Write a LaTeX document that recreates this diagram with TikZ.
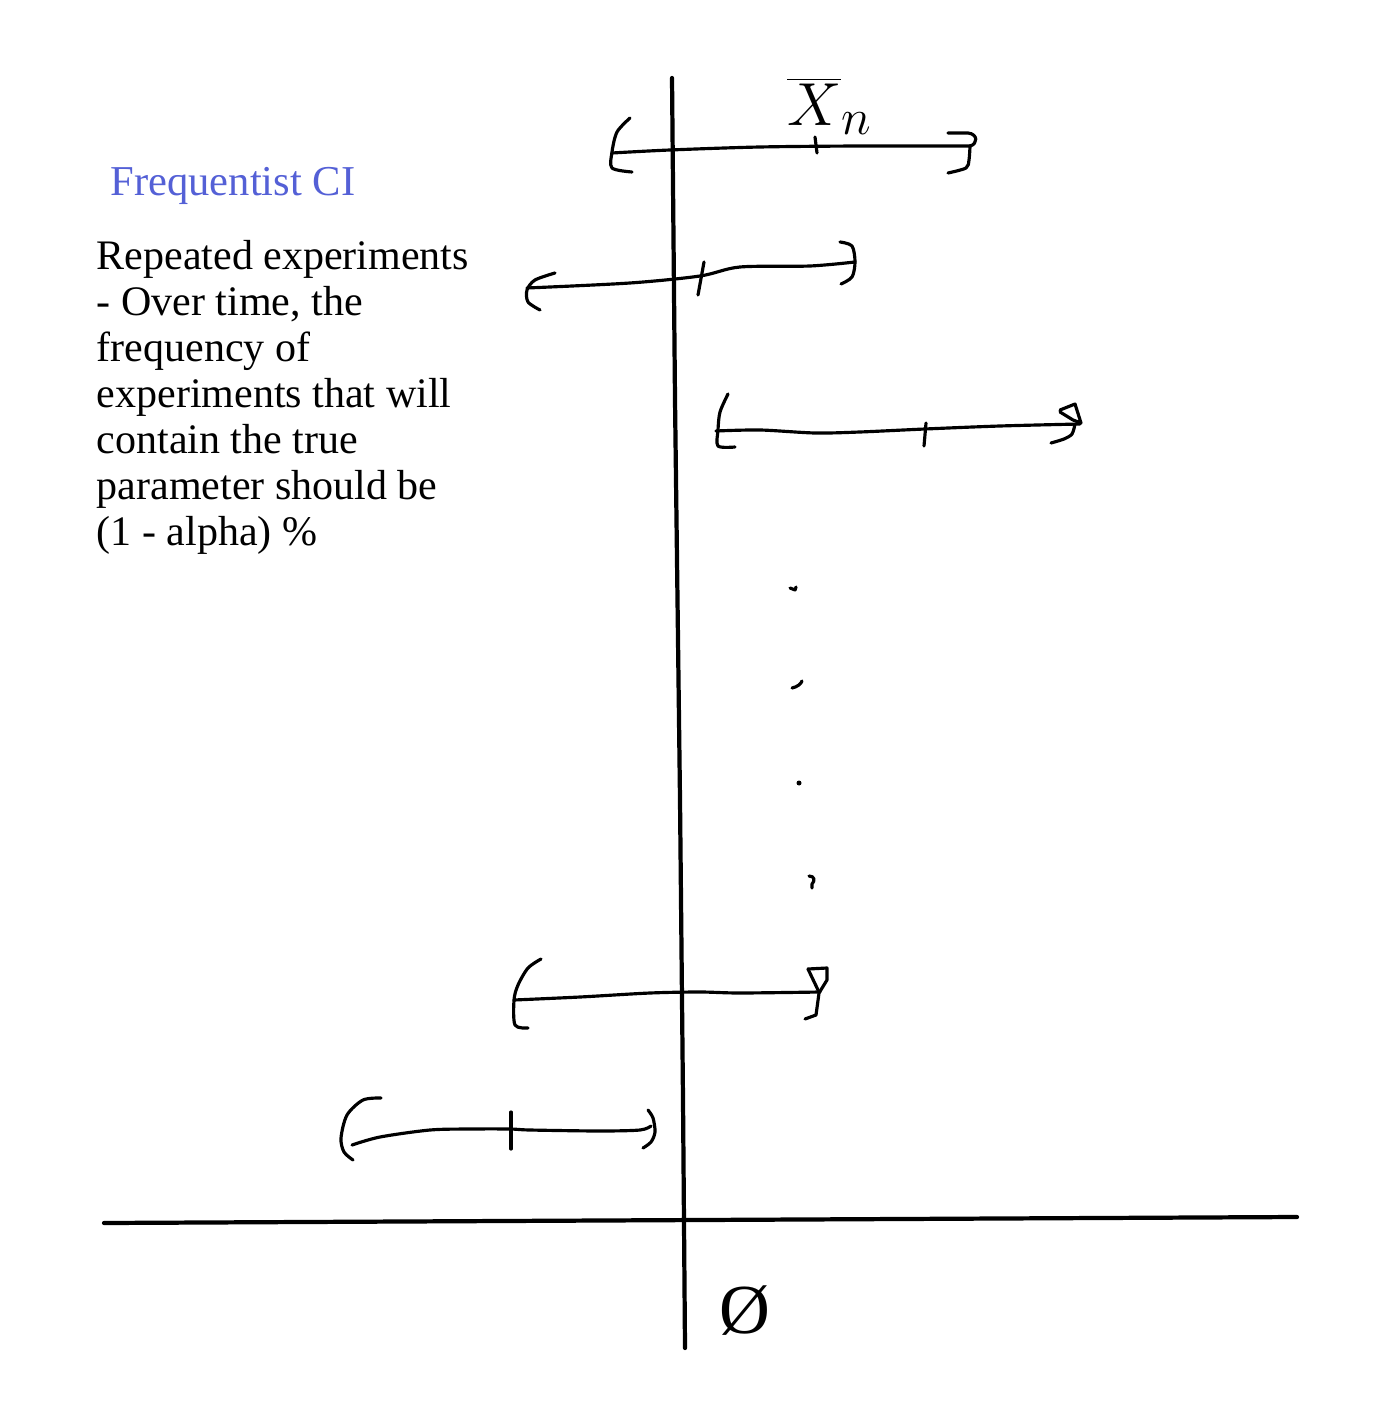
\documentclass[tikz,border=0pt]{standalone}
\usepackage{fontspec}
\setmainfont{Liberation Serif}
\usepackage{tikz}
\usetikzlibrary{positioning}
\definecolor{titleblue}{RGB}{84,96,214}

\begin{document}
\begin{tikzpicture}[x=0.01cm, y=-0.01cm,
    axisline/.style={line width=1.2pt, line cap=round},
    pen/.style={line width=0.9pt, line cap=round, line join=round}]

  \useasboundingbox (0,0) rectangle (1393,1419);

  % Text on the left
  \node[anchor=base west, inner sep=0pt, text=titleblue, font=\fontsize{12.1}{13}\selectfont]
    (title) at (110,196) {Frequentist CI};
  \node[anchor=north west, inner sep=0pt, align=left,
        font=\fontsize{11.95}{13.08}\selectfont]
    (body) at (96,240) {Repeated experiments\\
      - Over time, the\\
      frequency of\\
      experiments that will\\
      contain the true\\
      parameter should be\\
      (1 - alpha) \%};

  % Axes
  \draw[axisline] (672,78) -- (675,400) -- (680,800) -- (683,1100) -- (685,1348);
  \draw[axisline] (104,1223) -- (700,1220) -- (1297,1217);

  % Interval 1
  \draw[pen] plot[smooth] coordinates {(630,118) (617,132) (612,152) (612,168) (632,172)};
  \draw[pen] plot[smooth] coordinates {(612,153) (670,150) (760,147) (860,146) (970,146)};
  \draw[pen] (948,133) -- (968,133) .. controls (978,134) and (978,144) .. (970,146);
  \draw[pen] plot[smooth] coordinates {(970,146) (969,160) (966,168) (948,173)};
  \draw[pen] (815,137) -- (817,153);
  \node[inner sep=0pt, font=\fontsize{19}{19}\selectfont] (xbar) at (830,106) {$\overline{X}_n$};

  % Interval 2
  \draw[pen] plot[smooth] coordinates {(555,273) (535,280) (527,290) (528,302) (540,310)};
  \draw[pen] plot[smooth] coordinates {(527,288) (630,283) (700,276) (740,267) (810,266) (855,262)};
  \draw[pen] plot[smooth] coordinates {(840,242) (852,246) (855,262) (852,277) (841,284)};
  \draw[pen] (704,262) -- (698,295);

  % Interval 3
  \draw[pen] plot[smooth] coordinates {(728,394) (720,412) (718,430) (718,446) (735,447)};
  \draw[pen] plot[smooth] coordinates {(716,431) (760,430) (815,433) (860,432) (925,429) (1000,426) (1080,424)};
  \draw[pen] (926,423) -- (924,446);
  \draw[pen] (1060,410) -- (1075,404) -- (1081,423) -- (1073,420) -- (1060,412);
  \draw[pen] plot[smooth] coordinates {(1075,424) (1072,434) (1064,439) (1051,443)};

  % Dots
  \draw[pen] (790,588) -- (795,590) -- (796,587);
  \draw[pen] (792,688) .. controls (797,687) and (801,684) .. (802,681);
  \fill (799,783) circle (2.5);
  \draw[pen] (809,876) .. controls (815,876) and (815,881) .. (812,884) -- (812,888);

  % Interval 5
  \draw[pen] plot[smooth] coordinates {(541,959) (528,968) (518,985) (514,1000) (515,1025) (528,1028)};
  \draw[pen] plot[smooth] coordinates {(514,1000) (580,997) (650,993) (700,992) (740,993) (820,992)};
  \draw[pen] (808,969) -- (827,968) -- (827,980) -- (819,993) -- (816,1015) -- (805,1019);
  \draw[pen] (808,969) -- (818,990);

  % Interval 6
  \draw[pen] plot[smooth] coordinates {(381,1098) (363,1100) (347,1115) (341,1138) (344,1152) (353,1160)};
  \draw[pen] plot[smooth] coordinates {(352,1145) (380,1137) (430,1130) (470,1129) (510,1129) (530,1130) (600,1131) (640,1130) (651,1126)};
  \draw[pen] (511,1112) -- (511,1149);
  \draw[pen] plot[smooth] coordinates {(648,1110) (653,1118) (655,1132) (651,1142) (643,1148)};

  % True parameter
  \node[inner sep=0pt, font=\fontsize{20}{20}\selectfont] (theta) at (745,1311) {Ø};

\end{tikzpicture}
\end{document}
